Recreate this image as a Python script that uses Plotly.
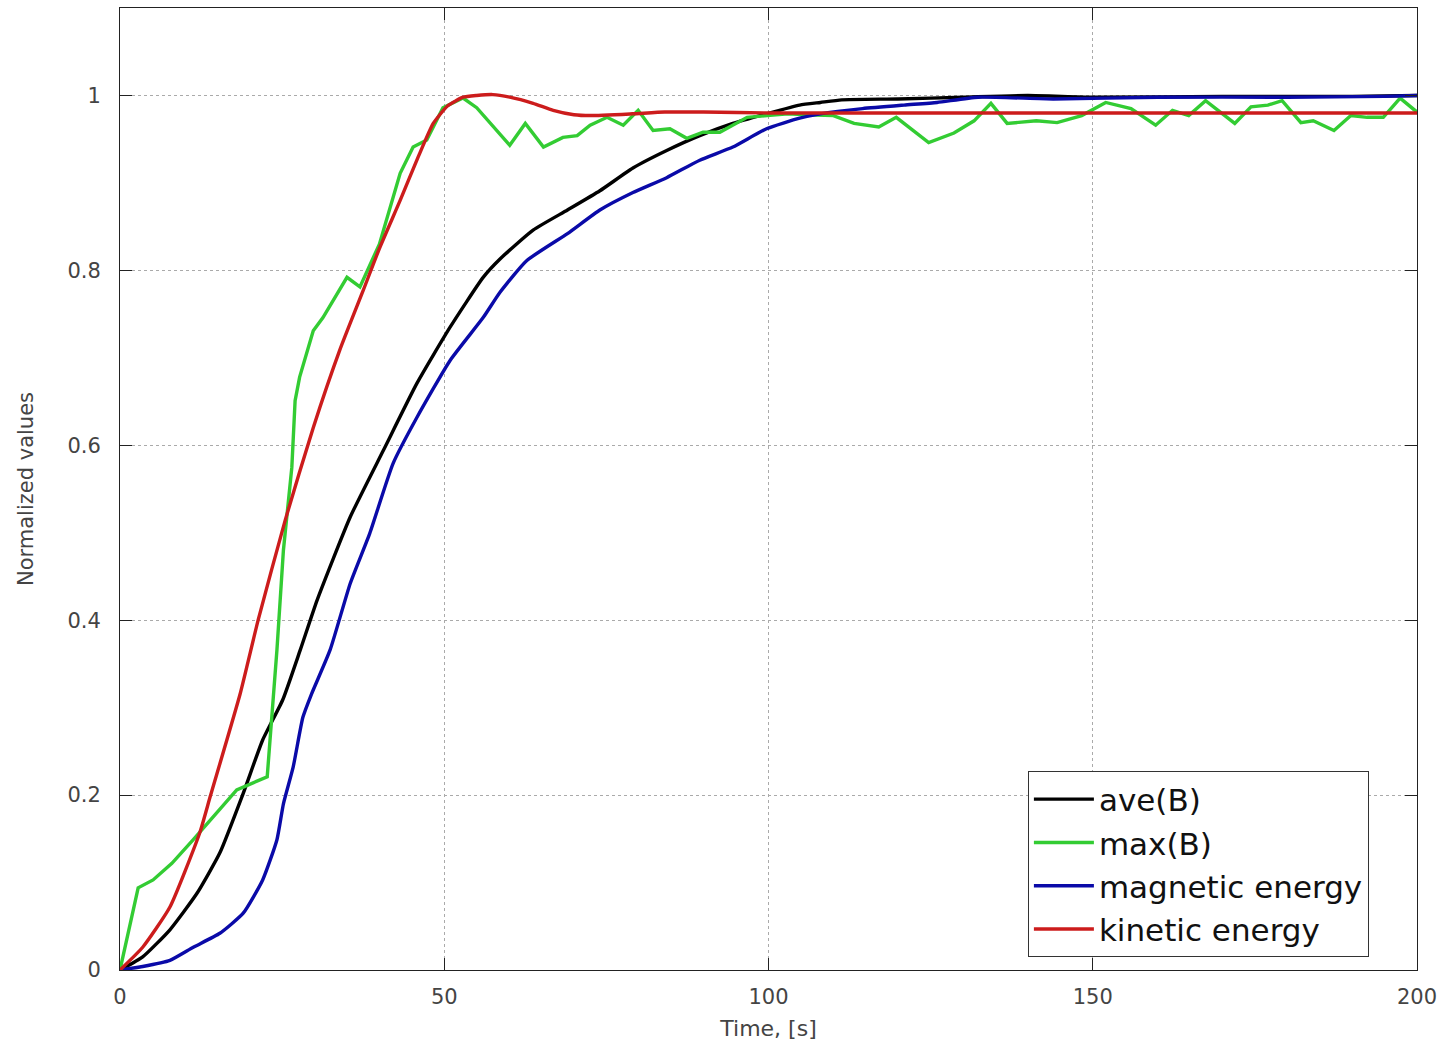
import plotly.graph_objects as go

# ---- data ----
t_ave = [0, 3.5, 7.7, 11.9, 15.4, 19, 22, 25.1, 27.8, 30.4, 35.5, 40.6, 45.8, 50.9, 56, 58.6,
         63.7, 69, 74, 79.1, 84.3, 89.4, 94.5, 99.7, 104.8, 108, 111.3, 120, 130, 140, 150,
         170, 190, 200]
ave_B = [0, 0.015, 0.046, 0.088, 0.134, 0.202, 0.263, 0.309, 0.366, 0.423, 0.518, 0.594, 0.671,
         0.735, 0.792, 0.813, 0.846, 0.869, 0.891, 0.917, 0.937, 0.954, 0.968, 0.979, 0.989,
         0.992, 0.995, 0.996, 0.998, 1.0, 0.998, 0.999, 0.999, 1.0]

t_max = [0, 2.8, 5.1, 8, 11.3, 13.9, 18, 22.7, 23.6, 24.2, 25.2, 26.5, 27, 27.7, 29.8, 31.3, 35,
         37, 40, 43.2, 45.2, 47.3, 49.8, 52.9, 55, 60.1, 62.5, 65.3, 68.3, 70.5, 72.5, 75.1,
         77.6, 79.9, 82.2, 84.8, 87.4, 89.9, 92.5, 96.7, 99.8, 103, 106, 110, 113.2, 117,
         119.7, 124.7, 128.6, 131.7, 134.3, 136.8, 141.3, 144.5, 148.3, 152, 155.9, 159.7,
         162.3, 164.8, 167.4, 171.9, 174.4, 177, 179.2, 182.1, 184, 187.2, 189.8, 192.3,
         194.8, 197.4, 200]
max_B = [0, 0.094, 0.103, 0.122, 0.149, 0.171, 0.206, 0.221, 0.309, 0.366, 0.48, 0.575, 0.651,
         0.678, 0.731, 0.746, 0.792, 0.781, 0.83, 0.911, 0.941, 0.949, 0.986, 0.997, 0.986,
         0.943, 0.968, 0.941, 0.952, 0.954, 0.966, 0.975, 0.966, 0.983, 0.96, 0.962, 0.951,
         0.958, 0.958, 0.975, 0.977, 0.979, 0.978, 0.977, 0.968, 0.964, 0.975, 0.946, 0.957,
         0.971, 0.991, 0.968, 0.971, 0.969, 0.977, 0.992, 0.985, 0.966, 0.983, 0.977, 0.994,
         0.968, 0.987, 0.989, 0.994, 0.969, 0.971, 0.96, 0.977, 0.975, 0.975, 0.997, 0.981]

t_mag = [0, 3.5, 7.7, 11.3, 15.4, 19, 22, 24.2, 25.2, 26.7, 28.2, 29.5, 32.4, 35.5, 38.5, 42.1,
         45.8, 50.9, 56, 58.6, 62.7, 69, 74, 79.1, 84.3, 89.4, 94.5, 99.7, 104.8, 108, 114.5,
         120.9, 126, 132.3, 143.9, 160, 180, 195, 200]
mag_E = [0, 0.004, 0.011, 0.026, 0.042, 0.065, 0.103, 0.149, 0.19, 0.232, 0.289, 0.315, 0.366,
         0.442, 0.499, 0.579, 0.632, 0.697, 0.746, 0.775, 0.811, 0.842, 0.869, 0.889, 0.906,
         0.926, 0.941, 0.962, 0.974, 0.979, 0.985, 0.989, 0.992, 0.998, 0.996, 0.998, 0.998,
         0.999, 1.0]

t_kin = [0, 3.5, 7.7, 12.3, 13.9, 18.5, 21.3, 25.5, 29.8, 33.9, 37.5, 40, 43.2, 46, 48.3, 50.5,
         52.9, 55, 57.5, 60.1, 63.7, 66.8, 70, 72.5, 79, 84, 90, 100, 120, 150, 200]
kin_E = [0, 0.026, 0.072, 0.157, 0.198, 0.315, 0.4, 0.515, 0.62, 0.709, 0.777, 0.825, 0.88,
         0.93, 0.968, 0.988, 0.998, 1.0, 1.001, 0.998, 0.991, 0.983, 0.978, 0.977, 0.979,
         0.981, 0.981, 0.98, 0.98, 0.98, 0.98]

series_names = ["ave(B)", "max(B)", "magnetic energy", "kinetic energy"]
series_colors = ["#000000", "#33cc33", "#0a0aa8", "#cc1c1c"]
series_shapes = ["spline", "linear", "spline", "spline"]

x_ticks = [0, 50, 100, 150, 200]
y_ticks = [0, 0.2, 0.4, 0.6, 0.8, 1]
y_labels = ["0", "0.2", "0.4", "0.6", "0.8", "1"]

fig = go.Figure()
for i, ((xs, ys), name, col, shp) in enumerate(zip(
        [(t_ave, ave_B), (t_max, max_B), (t_mag, mag_E), (t_kin, kin_E)],
        series_names, series_colors, series_shapes)):
    line = dict(color=col, width=3.4, shape=shp)
    if shp == "spline":
        line["smoothing"] = 0.5
    fig.add_trace(go.Scatter(x=xs, y=ys, mode="lines", name=name, legendgroup=f"g{i}",
                             line=line))

axis_common = dict(
    showline=True, linecolor="#222", linewidth=1, mirror="ticks",
    ticks="inside", ticklen=12, tickcolor="#222", tickwidth=1,
    showgrid=True, gridcolor="#aaaaaa", griddash="dot", gridwidth=1,
    zeroline=False,
    tickfont=dict(family="DejaVu Sans", size=21, color="#444"),
)

fig.update_layout(
    width=1439, height=1045,
    margin=dict(l=120, r=22, t=8, b=75),
    paper_bgcolor="white", plot_bgcolor="white",
    xaxis=dict(range=[0, 200], tickvals=x_ticks, ticklabelstandoff=8,
               automargin=False, ticklabeloverflow="allow",
               title=dict(text="Time, [s]", font=dict(family="DejaVu Sans", size=22, color="#444"),
                          standoff=12),
               **axis_common),
    yaxis=dict(range=[0, 1.1], tickvals=y_ticks, ticktext=y_labels, ticklabelstandoff=14,
               title=dict(text="Normalized values", font=dict(family="DejaVu Sans", size=21, color="#444"),
                          standoff=28),
               **axis_common),
    legend=dict(x=0.700, y=0.013, xanchor="left", yanchor="bottom",
                bgcolor="white", bordercolor="#333", borderwidth=1,
                font=dict(family="DejaVu Sans", size=31, color="#111"),
                itemwidth=60, tracegroupgap=3, traceorder="normal"),
    showlegend=True,
)

fig.write_html("out.html")
